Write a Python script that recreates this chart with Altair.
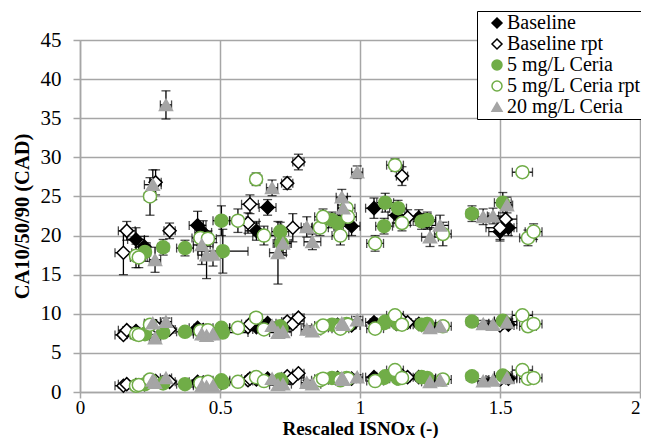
import altair as alt
import pandas as pd

SERIES = ["Baseline", "Baseline rpt", "5 mg/L Ceria", "5 mg/L Ceria rpt", "20 mg/L Ceria"]

# ---- Baseline ----
b_x    = [0.20, 0.23, 0.42, 0.44, 0.63, 0.67, 0.92, 0.97, 1.05, 1.13, 1.21, 1.24, 1.50, 1.53]
b_ca10 = [0.9, 1.0, 1.3, 1.2, 1.6, 1.7, 1.8, 1.7, 1.9, 1.8, 1.9, 1.7, 1.6, 1.7]
b_ca50 = [7.8, 7.5, 8.2, 7.9, 8.3, 8.8, 8.6, 8.5, 8.9, 8.7, 8.7, 8.4, 8.8, 8.6]
b_ca90 = [19.5, 18.6, 21.3, 20.4, 20.6, 23.6, 21.8, 21.2, 23.5, 22.6, 22.3, 21.8, 20.5, 21.0]
b_xe   = [0.03, 0.02, 0.03, 0.03, 0.04, 0.03, 0.03, 0.03, 0.03, 0.03, 0.03, 0.03, 0.04, 0.03]
b_e90  = [1.5, 1.3, 1.8, 1.5, 1.2, 1.0, 1.0, 1.2, 1.3, 1.0, 1.0, 1.0, 1.2, 1.0]

# ---- Baseline rpt ----
br_x    = [0.155, 0.167, 0.27, 0.32, 0.60, 0.607, 0.74, 0.76, 0.78, 1.15, 1.17, 1.50, 1.52]
br_ca10 = [0.8, 1.0, 1.4, 1.3, 1.5, 1.7, 2.0, 1.8, 2.4, 2.1, 1.9, 1.6, 1.9]
br_ca50 = [7.3, 7.9, 8.4, 8.0, 8.3, 8.7, 9.0, 8.7, 9.5, 9.2, 8.9, 8.5, 9.0]
br_ca90 = [17.8, 20.6, 26.8, 20.6, 21.6, 24.0, 26.7, 21.0, 29.4, 27.6, 22.3, 21.0, 22.1]
br_xe   = [0.03, 0.03, 0.02, 0.02, 0.04, 0.03, 0.02, 0.04, 0.02, 0.02, 0.03, 0.05, 0.04]
br_e90  = [2.8, 1.2, 1.6, 1.0, 1.3, 1.2, 0.8, 1.8, 1.0, 1.2, 1.0, 1.5, 1.3]

# ---- 5 mg/L Ceria ----
c5_x    = [0.232, 0.297, 0.375, 0.505, 0.51, 0.715, 0.72, 0.90, 0.92, 1.086, 1.09, 1.136, 1.22, 1.24, 1.40, 1.51]
c5_ca10 = [1.0, 1.1, 1.0, 1.5, 1.2, 1.6, 1.4, 1.8, 1.7, 1.8, 2.0, 1.7, 1.9, 1.8, 2.0, 2.1]
c5_ca50 = [7.4, 7.6, 7.7, 8.2, 7.6, 8.4, 8.1, 8.6, 8.5, 8.8, 9.0, 8.7, 8.6, 8.7, 9.0, 9.1]
c5_ca90 = [17.9, 18.5, 18.4, 21.9, 18.0, 20.5, 19.0, 22.0, 21.6, 21.2, 24.2, 23.5, 21.8, 22.0, 22.8, 24.2]
c5_xe   = [0.02, 0.02, 0.03, 0.03, 0.09, 0.03, 0.03, 0.03, 0.03, 0.03, 0.03, 0.03, 0.03, 0.03, 0.02, 0.03]
c5_e90  = [1.2, 1.0, 1.0, 1.9, 2.8, 1.2, 1.5, 1.0, 1.0, 1.0, 1.2, 1.0, 1.0, 1.0, 1.0, 1.3]

# ---- 5 mg/L Ceria rpt ----
c5r_x    = [0.20, 0.21, 0.25, 0.43, 0.457, 0.564, 0.629, 0.657, 0.857, 0.868, 0.93, 0.952, 0.957, 1.054, 1.125, 1.15, 1.296, 1.58, 1.60, 1.62]
c5r_ca10 = [0.8, 0.9, 1.6, 1.1, 1.3, 1.3, 1.9, 1.4, 1.5, 1.7, 1.5, 1.8, 1.7, 1.4, 2.8, 1.8, 1.6, 2.8, 1.7, 1.8]
c5r_ca50 = [7.4, 7.3, 8.6, 7.8, 7.9, 8.2, 9.5, 8.0, 8.2, 8.5, 8.1, 8.7, 8.6, 8.1, 9.8, 8.6, 8.4, 9.8, 8.4, 8.7]
c5r_ca90 = [17.4, 17.2, 25.0, 19.7, 19.6, 21.9, 27.2, 20.0, 21.0, 22.4, 20.0, 23.5, 22.4, 19.0, 29.0, 21.6, 20.2, 28.1, 19.7, 20.5]
c5r_xe   = [0.02, 0.03, 0.02, 0.03, 0.03, 0.03, 0.02, 0.04, 0.03, 0.03, 0.03, 0.03, 0.03, 0.03, 0.03, 0.03, 0.03, 0.036, 0.03, 0.03]
c5r_e90  = [1.5, 1.3, 2.4, 1.0, 1.0, 1.5, 0.8, 1.2, 1.0, 1.0, 1.2, 1.5, 1.0, 1.0, 0.8, 1.0, 1.5, 0.6, 1.0, 1.0]

# ---- 20 mg/L Ceria ----
c20_x    = [0.26, 0.268, 0.307, 0.435, 0.452, 0.475, 0.686, 0.707, 0.725, 0.81, 0.83, 0.935, 0.94, 0.99, 1.25, 1.286, 1.44, 1.475, 1.525]
c20_ca10 = [1.5, 1.2, 1.8, 0.8, 0.7, 0.8, 1.7, 0.9, 1.0, 1.2, 1.0, 1.8, 1.6, 1.9, 1.3, 1.5, 1.4, 1.5, 1.8]
c20_ca50 = [8.8, 6.9, 9.0, 7.4, 7.2, 7.4, 8.5, 7.6, 7.7, 8.0, 7.8, 8.8, 8.6, 9.2, 8.2, 8.4, 8.7, 8.6, 8.9]
c20_ca90 = [26.5, 16.9, 36.7, 18.8, 17.5, 17.6, 26.1, 17.8, 19.0, 21.1, 19.2, 24.9, 23.5, 28.1, 19.8, 21.3, 22.4, 22.5, 23.9]
c20_xe   = [0.03, 0.02, 0.02, 0.03, 0.03, 0.03, 0.02, 0.03, 0.03, 0.02, 0.03, 0.02, 0.02, 0.02, 0.03, 0.03, 0.02, 0.02, 0.02]
c20_e90  = [1.9, 1.6, 1.8, 2.5, 3.0, 1.5, 1.0, 4.0, 1.5, 1.3, 1.0, 1.0, 1.2, 0.8, 1.2, 1.3, 1.0, 1.0, 1.0]

E50 = 0.45
E10 = 0.3

X_TICKS = [0.0, 0.5, 1.0, 1.5, 2.0]
Y_TICKS = [0.0, 5.0, 10.0, 15.0, 20.0, 25.0, 30.0, 35.0, 40.0, 45.0]

groups = [
    ("Baseline", b_x, b_ca10, b_ca50, b_ca90, b_xe, b_e90),
    ("Baseline rpt", br_x, br_ca10, br_ca50, br_ca90, br_xe, br_e90),
    ("5 mg/L Ceria", c5_x, c5_ca10, c5_ca50, c5_ca90, c5_xe, c5_e90),
    ("5 mg/L Ceria rpt", c5r_x, c5r_ca10, c5r_ca50, c5r_ca90, c5r_xe, c5r_e90),
    ("20 mg/L Ceria", c20_x, c20_ca10, c20_ca50, c20_ca90, c20_xe, c20_e90),
]

rows = []
order = 0
for name, xs, c10, c50, c90, xe, e90 in groups:
    for i in range(len(xs)):
        for vals, ye in ((c10, E10), (c50, E50), (c90, e90[i])):
            rows.append(dict(series=name, x=xs[i], y=vals[i],
                             xlo=xs[i] - xe[i], xhi=xs[i] + xe[i],
                             ylo=vals[i] - ye, yhi=vals[i] + ye, o=order))
            order += 1
df = pd.DataFrame(rows)

FONT = "Liberation Serif"
GRID = "#A6A6A6"

xscale = alt.Scale(domain=[0, 2], nice=False, zero=False)
yscale = alt.Scale(domain=[0, 45], nice=False, zero=False)

xaxis = alt.Axis(values=X_TICKS, format="~g", title="Rescaled ISNOx (-)",
                 grid=True, gridColor=GRID, gridWidth=1.5, domainColor=GRID, domainWidth=1.5,
                 tickColor=GRID, tickWidth=1.5, tickSize=6, labelFontSize=19, labelColor="black",
                 labelPadding=0, labelFont=FONT, titleFont=FONT, titleFontSize=19,
                 titleFontWeight="bold", titleColor="black", titleBaseline="alphabetic",
                 titleY=42, labelFlush=False, labelOverlap=False,
                 labelAlign={"expr": "datum.value == 2 ? 'right' : 'center'"})
yaxis = alt.Axis(values=Y_TICKS, title="CA10/50/90 (CAD)", format="~g",
                 grid=True, gridColor=GRID, gridWidth=1.5, domainColor=GRID, domainWidth=1.5,
                 tickColor=GRID, tickWidth=1.5, tickSize=7, labelFontSize=21, labelColor="black",
                 labelPadding=12, labelFont=FONT, titleFont=FONT, titleFontSize=20.5,
                 titleFontWeight="bold", titleColor="black", titlePadding=8, labelFlush=False,
                 labelOverlap=False, labelBound=False)

base = alt.Chart(df)

def X(f):
    return alt.X(f, type="quantitative", scale=xscale, axis=xaxis)

def Y(f):
    return alt.Y(f, type="quantitative", scale=yscale, axis=yaxis)

xerr_rule = base.mark_rule(color="black", strokeWidth=1.3).encode(
    x=X("xlo"), x2="xhi:Q", y=Y("y"))
yerr_rule = base.mark_rule(color="black", strokeWidth=1.3).encode(
    x=X("x"), y=Y("ylo"), y2="yhi:Q")
cap_lo = base.mark_tick(color="black", orient="horizontal", size=9, thickness=1.3).encode(
    x=X("x"), y=Y("ylo"))
cap_hi = base.mark_tick(color="black", orient="horizontal", size=9, thickness=1.3).encode(
    x=X("x"), y=Y("yhi"))
xcap_lo = base.mark_tick(color="black", orient="vertical", size=9, thickness=1.3).encode(
    x=X("xlo"), y=Y("y"))
xcap_hi = base.mark_tick(color="black", orient="vertical", size=9, thickness=1.3).encode(
    x=X("xhi"), y=Y("y"))

legend = alt.Legend(title=None, orient="none", legendX=397, legendY=-29,
                    fillColor="white", strokeColor="black", padding=2,
                    labelFont=FONT, labelFontSize=20, labelColor="black", labelLimit=400,
                    symbolSize=100, symbolStrokeWidth=1.5, symbolOffset=8, rowPadding=1,
                    labelOffset=0)

points = base.mark_point(strokeWidth=1.5, opacity=1, size=170).encode(
    x=X("x"), y=Y("y"),
    shape=alt.Shape("series:N", scale=alt.Scale(domain=SERIES,
                    range=["diamond", "diamond", "circle", "circle", "triangle-up"]), legend=legend),
    fill=alt.Fill("series:N", scale=alt.Scale(domain=SERIES,
                  range=["black", "white", "#70AD47", "white", "#A5A5A5"]), legend=legend),
    stroke=alt.Stroke("series:N", scale=alt.Scale(domain=SERIES,
                      range=["black", "black", "#70AD47", "#70AD47", "#A5A5A5"]), legend=legend),
    order=alt.Order("o:Q"),
)

chart = alt.layer(xerr_rule, yerr_rule, cap_lo, cap_hi, xcap_lo, xcap_hi, points).properties(
    width=560, height=352,
    autosize=alt.AutoSizeParams(type="none"),
    padding={"left": 72, "top": 32, "right": 1, "bottom": 46},
).configure(font=FONT).configure_view(stroke=None)

chart.save("out.html", embed_options={"renderer": "svg", "actions": False})
